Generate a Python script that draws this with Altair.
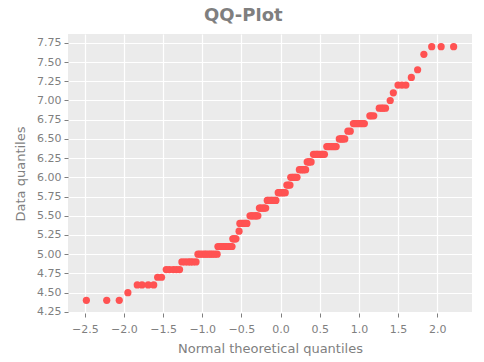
import altair as alt
import pandas as pd

# Data quantile levels and the theoretical (x) quantiles read for each level
levels = [4.4, 4.5, 4.6, 4.7, 4.8, 4.9, 5.0, 5.1, 5.2, 5.3, 5.4, 5.5, 5.6, 5.7,
          5.8, 5.9, 6.0, 6.1, 6.2, 6.3, 6.4, 6.5, 6.6, 6.7, 6.8, 6.9, 7.0, 7.1,
          7.2, 7.3, 7.4, 7.6, 7.7]
theoretical = [
    [-2.48, -2.22, -2.06],
    [-1.95],
    [-1.83, -1.77, -1.69, -1.62],
    [-1.57, -1.52],
    [-1.46, -1.42, -1.37, -1.33, -1.29],
    [-1.26, -1.22, -1.18, -1.15, -1.12, -1.08],
    [-1.055, -1.03, -1.00, -0.97, -0.95, -0.92, -0.895, -0.87, -0.84, -0.81],
    [-0.80, -0.775, -0.755, -0.73, -0.71, -0.69, -0.665, -0.64, -0.62],
    [-0.61, -0.60, -0.58, -0.57],
    [-0.53],
    [-0.52, -0.50, -0.48, -0.46, -0.445, -0.43],
    [-0.39, -0.37, -0.36, -0.34, -0.32, -0.31, -0.29],
    [-0.27, -0.26, -0.24, -0.22, -0.21, -0.19],
    [-0.17, -0.16, -0.14, -0.12, -0.11, -0.09, -0.07, -0.06],
    [-0.03, -0.02, 0.00, 0.01, 0.03, 0.04, 0.06],
    [0.08, 0.10, 0.12],
    [0.13, 0.15, 0.16, 0.18, 0.19, 0.21],
    [0.24, 0.26, 0.27, 0.29, 0.30, 0.32],
    [0.34, 0.36, 0.37, 0.39],
    [0.42, 0.44, 0.46, 0.47, 0.49, 0.51, 0.53, 0.54, 0.56],
    [0.59, 0.61, 0.63, 0.65, 0.67, 0.69, 0.71],
    [0.75, 0.77, 0.78, 0.80, 0.82],
    [0.86, 0.89],
    [0.93, 0.95, 0.97, 0.99, 1.01, 1.03, 1.05, 1.07],
    [1.14, 1.16, 1.19],
    [1.26, 1.29, 1.31, 1.34],
    [1.40],
    [1.44],
    [1.50, 1.55, 1.60],
    [1.67],
    [1.75],
    [1.83],
    [1.93, 2.05, 2.21],
]
x_ticks = [-2.5, -2.0, -1.5, -1.0, -0.5, 0.0, 0.5, 1.0, 1.5, 2.0]
y_ticks = [4.25, 4.5, 4.75, 5.0, 5.25, 5.5, 5.75, 6.0, 6.25, 6.5, 6.75, 7.0,
           7.25, 7.5, 7.75]

rows = []
for lv, xs in zip(levels, theoretical):
    for xv in xs:
        rows.append({"theo": xv, "data": lv})
df = pd.DataFrame(rows)

def expand(lo, hi, f=0.05):
    d = (hi - lo) * f
    return [lo - d, hi + d]

xdom = expand(df["theo"].min(), df["theo"].max())
ydom = expand(df["data"].min(), df["data"].max())

grey = "#7F7F7F"
font = "DejaVu Sans"

chart = alt.Chart(df).mark_circle(size=52, opacity=1, color="#FF5252").encode(
    x=alt.X("theo:Q", scale=alt.Scale(domain=xdom, nice=False, zero=False),
            axis=alt.Axis(title="Normal theoretical quantiles", values=x_ticks,
                          format=".1f", labelPadding=6, titlePadding=8)),
    y=alt.Y("data:Q", scale=alt.Scale(domain=ydom, nice=False, zero=False),
            axis=alt.Axis(title="Data quantiles", values=y_ticks,
                          format=".2f", labelPadding=3, titlePadding=9)),
).properties(
    width=404, height=279,
    title=alt.TitleParams("QQ-Plot", anchor="middle", frame="bounds",
                          fontSize=18, fontWeight="bold", color=grey,
                          font=font, offset=9),
    autosize=alt.AutoSizeParams(type="none"),
    padding={"left": 60, "top": 26, "right": 4, "bottom": 54},
).configure_view(
    fill="#EBEBEB", stroke=None
).configure_axis(
    domain=False, grid=True, gridColor="white", gridWidth=1.2,
    tickColor=grey, tickSize=4, labelColor=grey, labelFont=font,
    labelFontSize=11, titleColor=grey, titleFont=font, titleFontSize=13,
    titleFontWeight="normal"
)

chart.save("out.html", embed_options={"renderer": "svg", "actions": False})
